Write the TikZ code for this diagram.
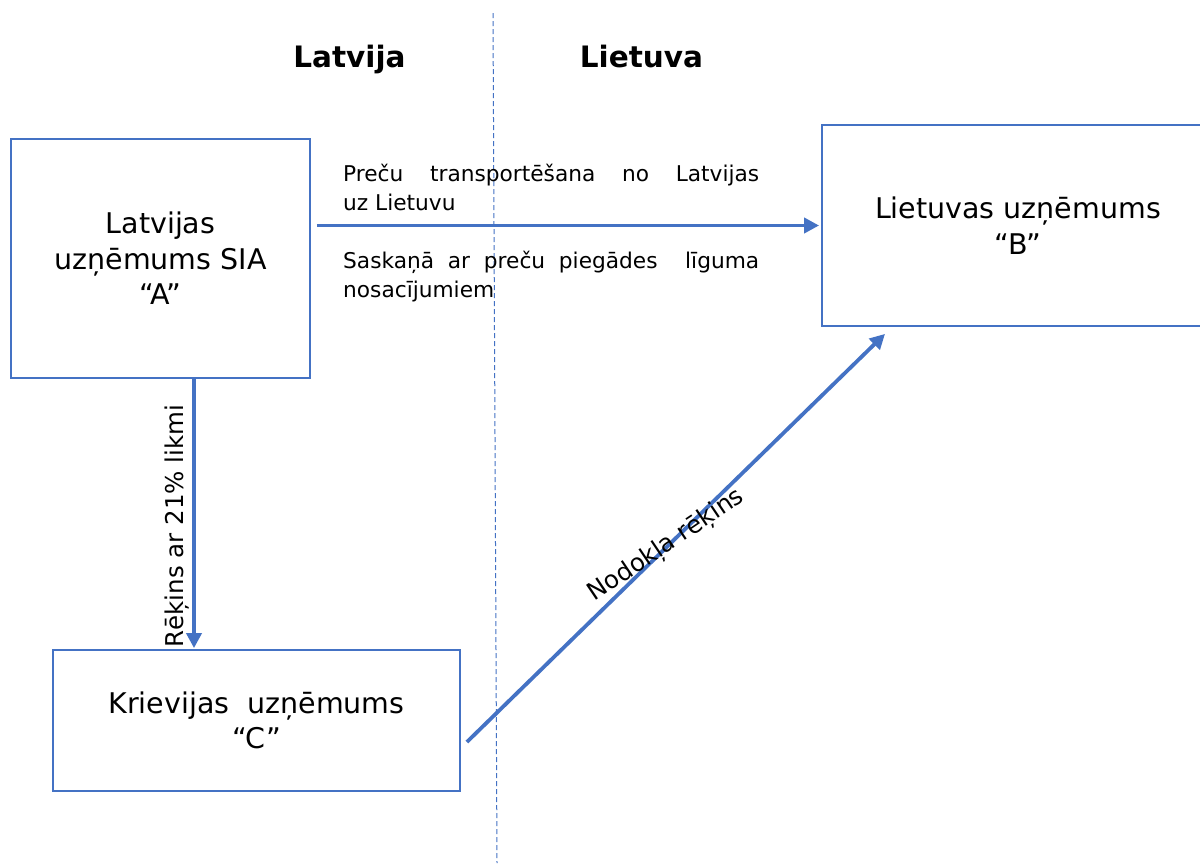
\documentclass[tikz,border=0pt]{standalone}
\usepackage{fontspec}
\setmainfont{DejaVu Sans}
\usetikzlibrary{arrows.meta}
\definecolor{accent}{HTML}{4472C4}
\begin{document}
\begin{tikzpicture}[x=1pt,y=-1pt,
  box/.style={draw=accent,line width=1.8pt,inner sep=0pt,align=center,font=\fontsize{28.5pt}{35.5pt}\selectfont},
  conn/.style={draw=accent,line width=3.8pt,-{Triangle[length=15pt,width=15pt]}},
  notetxt/.style={inner sep=0pt,align=left,font=\fontsize{21.7pt}{29pt}\selectfont},
  title/.style={inner sep=0pt,font=\fontsize{29.5pt}{35pt}\selectfont\bfseries},
  lbl/.style={inner sep=0pt,font=\fontsize{24.5pt}{29pt}\selectfont},
  divider/.style={draw=accent,line width=1pt,dash pattern=on 5pt off 3pt}]
\useasboundingbox (0,0) rectangle (1200,863);
\fill[white] (0,0) rectangle (1200,863);
% divider between countries
\coordinate (dtop) at (493,13);
\coordinate (dbot) at (497,863);
\draw[divider] (dtop) -- (dbot);
% titles
\node[title,anchor=base] (lv) at (349.5,67) {Latvija};
\node[title,anchor=base] (lt) at (641.5,67) {Lietuva};
% boxes
\node[box,minimum width=299pt,minimum height=239pt] (A) at (160.5,258.5) {Latvijas\\uzņēmums SIA\\“A”};
\node[box,minimum width=392pt,minimum height=201pt] (B) at (1018,225.5) {Lietuvas uzņēmums\\“B”};
\node[box,minimum width=407pt,minimum height=141pt] (C) at (256.5,720.5) {Krievijas\ \ uzņēmums\\“C”};
% horizontal connector
\draw[conn,shorten <=6pt,shorten >=2pt] (A.east |- B.west) -- (B.west);
\node[notetxt,anchor=base west] (t1) at (343,210) {\makebox[416pt][s]{Preču transportēšana no Latvijas}\\uz Lietuvu};
\node[notetxt,anchor=base west] (t2) at (343,297) {\makebox[416pt][s]{Saskaņā ar preču piegādes\ \ līguma}\\nosacījumiem};
% vertical connector
\coordinate (vs) at ([xshift=33.5pt]A.south);
\draw[conn,shorten >=1pt] (vs) -- (vs |- C.north);
\node[lbl,rotate=90,anchor=base] (l1) at (183,526) {Rēķins ar 21\% likmi};
% diagonal connector
\coordinate (cs) at ([shift={(6,21.5)}]C.east);
\coordinate (be) at ([shift={(-133,7)}]B.south);
\draw[conn] (cs) -- (be);
\node[lbl,rotate=34,anchor=base] (l2) at (670,551) {Nodokļa rēķins};
\end{tikzpicture}
\end{document}
